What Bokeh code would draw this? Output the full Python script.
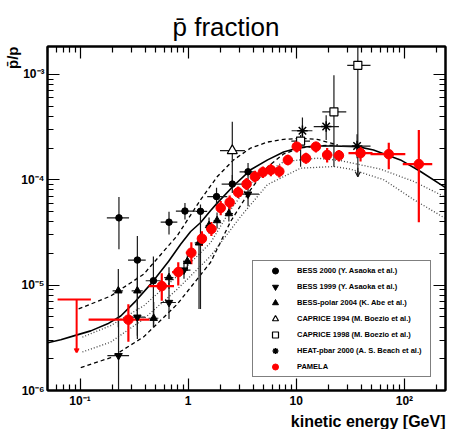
from bokeh.plotting import figure
from bokeh.models import (FixedTicker, CustomJSTickFormatter, LogAxis, Legend, LegendItem,
                          Arrow, OpenHead, Title)
from bokeh.embed import file_html
from bokeh.resources import INLINE

FONT = "Liberation Sans"

# ---------------- axis ticks ----------------
x_ticks = [0.1, 1, 10, 100]
x_tick_labels = ["10\u207b\u00b9", "1", "10", "10\u00b2"]
x_minor_ticks = [0.05, 0.06, 0.07, 0.08, 0.09, 0.2, 0.3, 0.4, 0.5, 0.6, 0.7, 0.8, 0.9,
                 2, 3, 4, 5, 6, 7, 8, 9, 20, 30, 40, 50, 60, 70, 80, 90, 200]
y_ticks = [1e-6, 1e-5, 1e-4, 1e-3]
y_tick_labels = ["10\u207b\u2076", "10\u207b\u2075", "10\u207b\u2074", "10\u207b\u00b3"]
y_minor_ticks = [2e-6, 3e-6, 4e-6, 5e-6, 6e-6, 7e-6, 8e-6, 9e-6,
                 2e-5, 3e-5, 4e-5, 5e-5, 6e-5, 7e-5, 8e-5, 9e-5,
                 2e-4, 3e-4, 4e-4, 5e-4, 6e-4, 7e-4, 8e-4, 9e-4]

# ---------------- PAMELA ----------------
pam_e = [0.28, 0.57, 0.81, 1.07, 1.34, 1.64, 2.00, 2.42, 2.90, 3.47, 4.14, 4.91, 5.82, 6.97,
         8.36, 10.1, 12.3, 15.2, 19.3, 24.8, 39.3, 71.7, 136]
pam_r = [4.7e-6, 9.8e-6, 1.33e-5, 2.03e-5, 2.76e-5, 3.41e-5, 5.4e-5, 6.1e-5, 7.6e-5, 9.1e-5,
         1.07e-4, 1.18e-4, 1.24e-4, 1.20e-4, 1.54e-4, 2.06e-4, 1.60e-4, 2.06e-4, 1.72e-4,
         1.70e-4, 1.79e-4, 1.75e-4, 1.41e-4]
pam_e_lo = [0.12, 0.43, 0.71, 0.95, 1.22, 1.47, 1.82, 2.2, 2.65, 3.2, 3.8, 4.5, 5.35, 6.4,
            7.6, 9.2, 11.2, 13.5, 17.4, 22.2, 30.4, 48.6, 96.6]
pam_e_hi = [0.44, 0.74, 0.91, 1.17, 1.48, 1.82, 2.2, 2.65, 3.2, 3.8, 4.5, 5.35, 6.4, 7.6,
            9.2, 11.2, 13.5, 16.9, 21.5, 27.5, 50.7, 102, 181]
pam_r_lo = [2.9e-6, 7.1e-6, 9.9e-6, 1.58e-5, 2.35e-5, 2.93e-5, 4.6e-5, 5.2e-5, 6.7e-5, 8.0e-5,
            9.4e-5, 1.04e-4, 1.08e-4, 1.05e-4, 1.37e-4, 1.81e-4, 1.42e-4, 1.81e-4, 1.46e-4,
            1.49e-4, 1.49e-4, 1.26e-4, 3.96e-5]
pam_r_hi = [6.6e-6, 1.3e-5, 1.65e-5, 2.55e-5, 3.25e-5, 3.97e-5, 6.3e-5, 7.1e-5, 8.65e-5, 1.04e-4,
            1.22e-4, 1.34e-4, 1.42e-4, 1.37e-4, 1.73e-4, 2.38e-4, 1.80e-4, 2.30e-4, 2.0e-4,
            1.92e-4, 2.09e-4, 2.25e-4, 2.96e-4]
# PAMELA upper limit
pam_ul_e = [0.093]
pam_ul_e_lo = [0.062]
pam_ul_e_hi = [0.126]
pam_ul_r = [7.3e-6]
pam_ul_r_end = [2.3e-6]

# ---------------- BESS 2000 ----------------
b00_e = [0.229, 0.339, 0.477, 0.665, 0.934, 1.30, 1.83, 2.56, 3.58]
b00_r = [4.35e-5, 1.73e-5, 1.10e-5, 3.96e-5, 5.05e-5, 5.02e-5, 6.92e-5, 9.10e-5, 1.19e-4]
b00_e_lo = [0.177, 0.278, 0.405, 0.557, 0.77, 1.17, 1.50, 2.04, 2.99]
b00_e_hi = [0.284, 0.405, 0.557, 0.794, 1.17, 1.50, 2.30, 3.17, 4.21]
b00_r_lo = [2.19e-5, 3.09e-6, 3.99e-6, 3.03e-5, 4.20e-5, 5.94e-6, 5.60e-5, 7.50e-5, 1.0e-4]
b00_r_hi = [6.87e-5, 2.92e-5, 1.87e-5, 4.96e-5, 6.03e-5, 5.81e-5, 8.41e-5, 1.11e-4, 1.44e-4]

# ---------------- BESS 1999 ----------------
b99_e = [0.227, 0.339, 0.665, 0.915, 3.58]
b99_r = [2.14e-6, 4.96e-6, 6.84e-6, 1.39e-5, 7.3e-5]
b99_e_lo = [0.179, 0.28, 0.557, 0.8, 2.85]
b99_e_hi = [0.284, 0.40, 0.77, 1.05, 4.51]
b99_r_lo = [5e-7, 3.3e-6, 4.78e-6, 1.15e-5, 5.6e-5]
b99_r_hi = [4.7e-6, 7.0e-6, 1.14e-5, 1.7e-5, 1.0e-4]

# ---------------- BESS-polar 2004 ----------------
bp_e = [0.226, 0.339, 0.480, 0.665, 0.983, 1.26, 1.56, 1.85, 2.38]
bp_r = [8.84e-6, 8.84e-6, 4.85e-6, 1.18e-5, 1.68e-5, 2.52e-5, 3.68e-5, 4.10e-5, 4.78e-5]
bp_e_lo = [0.20, 0.30, 0.43, 0.60, 0.90, 1.15, 1.45, 1.72, 2.2]
bp_e_hi = [0.25, 0.38, 0.53, 0.73, 1.07, 1.38, 1.68, 2.0, 2.6]
bp_r_lo = [3.99e-6, 6.5e-6, 4.02e-6, 9.17e-6, 1.36e-5, 5.94e-6, 3.09e-5, 3.45e-5, 4.02e-5]
bp_r_hi = [1.42e-5, 1.2e-5, 6.92e-6, 1.48e-5, 2.09e-5, 2.92e-5, 4.38e-5, 4.88e-5, 5.69e-5]

# ---------------- CAPRICE 1994 ----------------
c94_e = [2.56]
c94_r = [1.89e-4]
c94_e_lo = [1.97]
c94_e_hi = [3.35]
c94_r_lo = [8.97e-5]
c94_r_hi = [3.55e-4]

# ---------------- CAPRICE 1998 ----------------
c98_e = [10.96, 22.3, 37.1]
c98_r = [2.33e-4, 4.41e-4, 1.22e-3]
c98_e_lo = [9.0, 17.4, 29.6]
c98_e_hi = [13.4, 29.0, 48.6]
c98_r_lo = [1.33e-4, 1.33e-4, 1.07e-4]
c98_r_hi = [2.66e-4, 9.79e-4, 3.0e-3]
c98_arrow_r_start = [1.3e-4]
c98_arrow_r_end = [1.07e-4]

# ---------------- HEAT-pbar 2000 ----------------
heat_e = [11.4, 18.9, 36.5]
heat_r = [2.92e-4, 3.20e-4, 2.09e-4]
heat_e_lo = [9.05, 14.5, 26.6]
heat_e_hi = [14.1, 24.8, 48.6]
heat_r_lo = [2.30e-4, 2.38e-4, 1.6e-4]
heat_r_hi = [3.90e-4, 4.10e-4, 2.7e-4]

# ---------------- model curves ----------------
solid_e = [0.0503, 0.0663, 0.0875, 0.1256, 0.180, 0.238, 0.327, 0.450, 0.660, 0.852, 1.055,
           1.305, 1.614, 1.873, 2.634, 3.781, 5.43, 7.63, 10.96, 15.7, 22.1, 36.9, 51.8, 92.0,
           141, 240]
solid_r = [2.84e-6, 3.03e-6, 3.30e-6, 3.68e-6, 4.29e-6, 5.10e-6, 7.06e-6, 1.022e-5, 1.684e-5,
           2.44e-5, 3.23e-5, 3.93e-5, 5.10e-5, 6.07e-5, 8.78e-5, 1.243e-4, 1.544e-4, 1.838e-4,
           2.035e-4, 2.093e-4, 2.093e-4, 2.062e-4, 1.92e-4, 1.544e-4, 1.197e-4, 8.41e-5]
dash_hi_e = [0.097, 0.192, 0.388, 0.795, 1.305, 1.862, 2.634, 3.781, 5.43, 7.68, 10.96, 15.6, 24.1]
dash_hi_r = [5.94e-6, 7.88e-6, 1.27e-5, 2.96e-5, 6.48e-5, 1.074e-4, 1.544e-4, 2.0e-4, 2.28e-4,
             2.42e-4, 2.475e-4, 2.42e-4, 2.14e-4]
dash_lo_e = [0.1015, 0.192, 0.388, 0.795, 1.614, 2.47, 3.781, 5.43, 7.63, 10.96, 15.7, 24.1]
dash_lo_r = [1.648e-6, 2.05e-6, 3.23e-6, 6.62e-6, 1.648e-5, 4.02e-5, 8.05e-5, 1.326e-4, 1.759e-4,
             2.0e-4, 2.093e-4, 2.14e-4]
dot_hi_e = [0.1052, 0.1921, 0.389, 0.795, 1.614, 2.47, 3.781, 7.68, 15.6, 25.7, 60.1, 122, 240]
dot_hi_r = [3.21e-6, 4.13e-6, 6.38e-6, 1.224e-5, 2.53e-5, 5.21e-5, 9.31e-5, 1.488e-4, 1.602e-4,
            1.521e-4, 1.262e-4, 9.64e-5, 6.84e-5]
dot_lo_e = [0.1052, 0.1921, 0.389, 0.795, 1.614, 3.06, 5.40, 10.96, 22.3, 31.8, 64.5, 122, 240]
dot_lo_r = [2.32e-6, 2.88e-6, 4.78e-6, 9.17e-6, 1.89e-5, 4.48e-5, 8.97e-5, 1.289e-4, 1.335e-4,
            1.262e-4, 1.0e-4, 6.48e-5, 4.29e-5]

legend_labels = ["BESS 2000 (Y. Asaoka et al.)", "BESS 1999 (Y. Asaoka et al.)",
                 "BESS-polar 2004 (K. Abe et al.)", "CAPRICE 1994 (M. Boezio et al.)",
                 "CAPRICE 1998 (M. Boezio et al.)", "HEAT-pbar 2000 (A. S. Beach et al.)",
                 "PAMELA"]

# ---------------- figure ----------------
p = figure(width=449, height=429, x_axis_type="log", y_axis_type="log",
           x_range=(0.05, 240), y_range=(1e-6, 1.84e-3), title=None,
           output_backend="svg", toolbar_location=None,
           min_border_left=47, min_border_right=4, min_border_top=46, min_border_bottom=37)
p.xgrid.visible = False
p.ygrid.visible = False
p.outline_line_color = "black"
p.outline_line_width = 2
p.background_fill_color = "white"
p.border_fill_color = "white"

fmt_code = """
const lt = Math.log10(tick);
for (let i = 0; i < vals.length; i++) {
  if (Math.abs(Math.log10(vals[i]) - lt) < 1e-6) { return labs[i]; }
}
return "";
"""
xaxis = p.below[0]
yaxis = p.left[0]
xaxis.ticker = FixedTicker(ticks=x_ticks, minor_ticks=x_minor_ticks)
yaxis.ticker = FixedTicker(ticks=y_ticks, minor_ticks=y_minor_ticks)
xaxis.formatter = CustomJSTickFormatter(args=dict(vals=x_ticks, labs=x_tick_labels), code=fmt_code)
yaxis.formatter = CustomJSTickFormatter(args=dict(vals=y_ticks, labs=y_tick_labels), code=fmt_code)

top = LogAxis(ticker=FixedTicker(ticks=x_ticks, minor_ticks=x_minor_ticks),
              formatter=CustomJSTickFormatter(code="return '';"))
right = LogAxis(ticker=FixedTicker(ticks=y_ticks, minor_ticks=y_minor_ticks),
                formatter=CustomJSTickFormatter(code="return '';"))
p.add_layout(top, "above")
p.add_layout(right, "right")

for ax in [xaxis, yaxis, top, right]:
    ax.major_tick_in = 12
    ax.major_tick_out = 0
    ax.minor_tick_in = 6
    ax.minor_tick_out = 0
    ax.axis_line_width = 2
    ax.axis_line_color = "black"
    ax.major_tick_line_width = 1.2
    ax.minor_tick_line_width = 1.2
    ax.major_tick_line_color = "black"
    ax.minor_tick_line_color = "black"
    ax.major_label_text_font = FONT
    ax.major_label_text_font_style = "bold"
    ax.major_label_text_font_size = "12px"
    ax.major_label_text_color = "black"
    ax.major_label_standoff = 3
for ax in [top, right]:
    ax.major_label_text_font_size = "0px"
    ax.major_label_standoff = 0

# ---------------- curves ----------------
p.line(solid_e, solid_r, line_color="black", line_width=1.6)
p.line(dash_hi_e, dash_hi_r, line_color="black", line_width=1.3, line_dash="4 3")
p.line(dash_lo_e, dash_lo_r, line_color="black", line_width=1.3, line_dash="4 3")
p.line(dot_hi_e, dot_hi_r, line_color="#444444", line_width=1.3, line_dash="1 2")
p.line(dot_lo_e, dot_lo_r, line_color="#444444", line_width=1.3, line_dash="1 2")


def errbars(e, r, elo, ehi, rlo, rhi, color, width):
    p.segment(x0=elo, y0=r, x1=ehi, y1=r, line_color=color, line_width=width)
    p.segment(x0=e, y0=rlo, x1=e, y1=rhi, line_color=color, line_width=width)


BLK = "#1a1a1a"
errbars(b00_e, b00_r, b00_e_lo, b00_e_hi, b00_r_lo, b00_r_hi, BLK, 1.2)
errbars(b99_e, b99_r, b99_e_lo, b99_e_hi, b99_r_lo, b99_r_hi, BLK, 1.2)
errbars(bp_e, bp_r, bp_e_lo, bp_e_hi, bp_r_lo, bp_r_hi, BLK, 1.2)
errbars(c94_e, c94_r, c94_e_lo, c94_e_hi, c94_r_lo, c94_r_hi, BLK, 1.2)
errbars(c98_e, c98_r, c98_e_lo, c98_e_hi, c98_r_lo, c98_r_hi, BLK, 1.2)
errbars(heat_e, heat_r, heat_e_lo, heat_e_hi, heat_r_lo, heat_r_hi, BLK, 1.2)
p.add_layout(Arrow(x_start=c98_e[2], y_start=c98_arrow_r_start[0], x_end=c98_e[2],
                   y_end=c98_arrow_r_end[0], line_color=BLK, line_width=1.2,
                   end=OpenHead(size=5, line_color=BLK, line_width=1.2)))

RED = "#ff0000"
errbars(pam_e, pam_r, pam_e_lo, pam_e_hi, pam_r_lo, pam_r_hi, RED, 2.2)
p.segment(x0=pam_ul_e_lo, y0=pam_ul_r, x1=pam_ul_e_hi, y1=pam_ul_r, line_color=RED, line_width=2)
p.add_layout(Arrow(x_start=pam_ul_e[0], y_start=pam_ul_r[0], x_end=pam_ul_e[0],
                   y_end=pam_ul_r_end[0], line_color=RED, line_width=2,
                   end=OpenHead(size=4, line_color=RED, line_width=2)))

r_b00 = p.scatter(b00_e, b00_r, marker="circle", size=6.5, fill_color="black", line_color="black")
r_b99 = p.scatter(b99_e, b99_r, marker="inverted_triangle", size=7.5, fill_color="black", line_color="black")
r_bp = p.scatter(bp_e, bp_r, marker="triangle", size=7.5, fill_color="black", line_color="black")
r_c94 = p.scatter(c94_e, c94_r, marker="triangle", size=10, fill_color="white", line_color="black", line_width=1.2)
r_c98 = p.scatter(c98_e, c98_r, marker="square", size=8, fill_color="white", line_color="black", line_width=1.2)
r_heat = p.scatter(heat_e, heat_r, marker="asterisk", size=10.5, line_color="black", line_width=1.5)
r_pam = p.scatter(pam_e, pam_r, marker="circle", size=9.5, fill_color=RED, line_color=RED)

renderers = [r_b00, r_b99, r_bp, r_c94, r_c98, r_heat, r_pam]
legend = Legend(items=[LegendItem(label=l, renderers=[r]) for l, r in zip(legend_labels, renderers)],
                location=(205, 13), margin=0, padding=2, spacing=1,
                glyph_height=15, glyph_width=40, label_height=15, label_width=131,
                label_standoff=2, border_line_color="black", border_line_width=1,
                background_fill_color="white", background_fill_alpha=1.0,
                label_text_font=FONT, label_text_font_style="bold",
                label_text_font_size="7.5px", label_text_color="black")
p.add_layout(legend)

# ---------------- texts ----------------
p.add_layout(Title(text="p\u0304 fraction", align="left", offset=125, standoff=10,
                   text_font=FONT, text_font_size="26px", text_font_style="normal",
                   text_color="black"), "above")
p.add_layout(Title(text="p\u0304/p", align="right", standoff=-4,
                   text_font=FONT, text_font_size="15px", text_font_style="bold",
                   text_color="black"), "left")
p.add_layout(Title(text="kinetic energy [GeV]", align="right", standoff=0,
                   text_font=FONT, text_font_size="16px", text_font_style="bold",
                   text_color="black"), "below")

open("out.html", "w").write(file_html(p, INLINE))
